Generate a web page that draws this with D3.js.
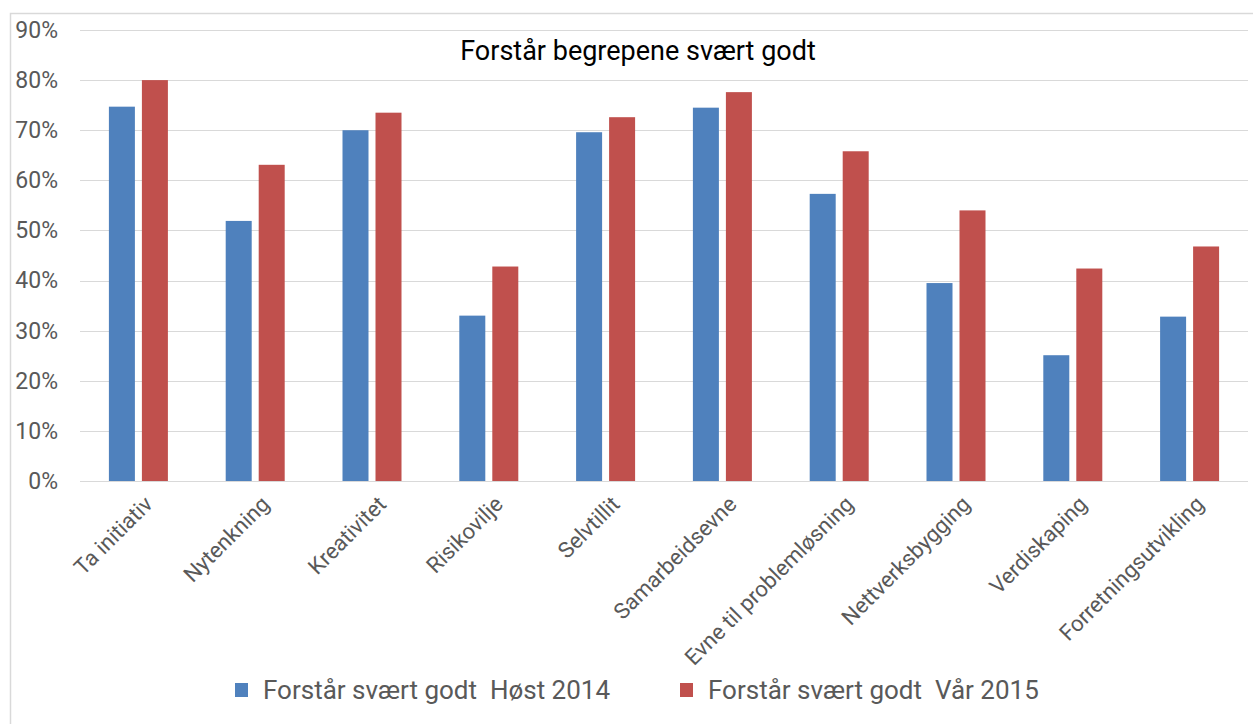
<!DOCTYPE html>
<html>
<meta charset="utf-8">
<title>Forstår begrepene svært godt</title>
<style>
	body {
		margin: 0;
		background: #fff;
	}

	text {
		font-family: Roboto, "Liberation Sans", sans-serif;
		white-space: pre;
	}

	.grid line {
		stroke: #d9d9d9;
		stroke-width: 1.5px;
		shape-rendering: crispEdges;
	}

	.tick-label {
		font-size: 23px;
		fill: #595959;
	}

	.cat-label {
		font-size: 22px;
		fill: #595959;
	}
</style>

<body>
	<div id="chart"></div>

	<script src="https://cdnjs.cloudflare.com/ajax/libs/d3/7.8.5/d3.min.js"></script>

	<script>
		var categories = ["Ta initiativ", "Nytenkning", "Kreativitet", "Risikovilje", "Selvtillit",
			"Samarbeidsevne", "Evne til problemløsning", "Nettverksbygging", "Verdiskaping", "Forretningsutvikling"];

		var seriesNames = ["Forstår svært godt  Høst 2014", "Forstår svært godt  Vår 2015"];

		var host2014 = [0.747, 0.519, 0.700, 0.330, 0.696, 0.745, 0.573, 0.395, 0.251, 0.328];
		var var2015 = [0.800, 0.631, 0.735, 0.428, 0.726, 0.776, 0.658, 0.540, 0.424, 0.468];

		var yTicks = [0, 0.1, 0.2, 0.3, 0.4, 0.5, 0.6, 0.7, 0.8, 0.9];

		var colors = ["#4f81bd", "#c0504d"];

		var width = 1253,
			height = 724,
			plot = { left: 80, right: 1248, top: 30, bottom: 481 };

		var svg = d3.select("#chart").append("svg")
			.attr("width", width)
			.attr("height", height);

		// chart frame (runs past the window on right and bottom)
		svg.append("rect")
			.attr("x", 10.5)
			.attr("y", 13.5)
			.attr("width", 1400)
			.attr("height", 900)
			.attr("fill", "none")
			.attr("stroke", "#d9d9d9")
			.attr("stroke-width", 1.5);

		var y = d3.scaleLinear()
			.domain([0, 0.9])
			.range([plot.bottom, plot.top]);

		var x0 = d3.scaleBand()
			.domain(categories)
			.range([plot.left, plot.right])
			.padding(0);

		var groupWidth = 59;
		var x1 = d3.scaleBand()
			.domain([0, 1])
			.range([0, groupWidth])
			.paddingInner(7 / 33)
			.paddingOuter(0);

		// gridlines
		svg.append("g")
			.attr("class", "grid")
			.selectAll("line")
			.data(yTicks)
			.enter().append("line")
			.attr("x1", plot.left)
			.attr("x2", plot.right)
			.attr("y1", function (d) { return Math.round(y(d)) + 0.5; })
			.attr("y2", function (d) { return Math.round(y(d)) + 0.5; });

		// y axis labels
		var yAxis = d3.axisLeft(y)
			.tickValues(yTicks)
			.tickFormat(d3.format(".0%"))
			.tickSize(0)
			.tickPadding(0);

		var yg = svg.append("g")
			.attr("transform", "translate(58,0)")
			.call(yAxis);
		yg.select(".domain").remove();
		yg.attr("font-family", null).attr("font-size", null);
		yg.selectAll("text")
			.attr("class", "tick-label")
			.attr("fill", "#595959");

		// bars
		var rows = categories.map(function (c, i) {
			return { cat: c, values: [host2014[i], var2015[i]] };
		});

		var groups = svg.append("g")
			.selectAll("g")
			.data(rows)
			.enter().append("g")
			.attr("transform", function (d) {
				return "translate(" + (x0(d.cat) + (x0.bandwidth() - groupWidth) / 2) + ",0)";
			});

		groups.selectAll("rect")
			.data(function (d) { return d.values; })
			.enter().append("rect")
			.attr("x", function (d, i) { return x1(i); })
			.attr("width", x1.bandwidth())
			.attr("y", function (d) { return y(d); })
			.attr("height", function (d) { return y(0) - y(d); })
			.attr("fill", function (d, i) { return colors[i]; });

		// category labels
		svg.append("g")
			.selectAll("text")
			.data(categories)
			.enter().append("text")
			.attr("class", "cat-label")
			.attr("text-anchor", "end")
			.attr("transform", function (d) {
				return "translate(" + (x0(d) + x0.bandwidth() / 2) + ",490) rotate(-45)";
			})
			.attr("dy", 22)
			.text(function (d) { return d; });

		// title
		svg.append("text")
			.attr("x", 638)
			.attr("y", 60)
			.attr("text-anchor", "middle")
			.style("font-size", "27px")
			.attr("fill", "#000")
			.text("Forstår begrepene svært godt");

		// legend
		var legendX = [235, 680];
		var legend = svg.append("g")
			.selectAll("g")
			.data(seriesNames)
			.enter().append("g")
			.attr("transform", function (d, i) { return "translate(" + legendX[i] + ",683)"; });

		legend.append("rect")
			.attr("width", 13)
			.attr("height", 14)
			.attr("fill", function (d, i) { return colors[i]; });

		legend.append("text")
			.attr("x", 28)
			.attr("y", 16)
			.style("font-size", "26px")
			.attr("fill", "#595959")
			.text(function (d) { return d; });
	</script>
</body>

</html>
